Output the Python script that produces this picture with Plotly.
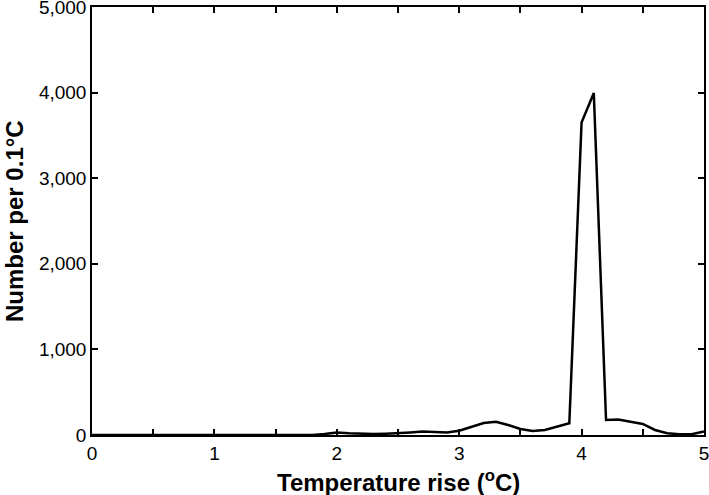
import plotly.graph_objects as go

temperature_rise = [round(i * 0.1, 1) for i in range(51)]
number_per_bin = [
    0, 0, 0, 0, 0, 0, 0, 0, 0, 0,        # 0.0-0.9
    0, 0, 0, 0, 0, 0, 0, 0, 0, 10,       # 1.0-1.9
    30, 20, 15, 10, 15, 20, 30, 40, 35, 30,   # 2.0-2.9
    50, 97, 140, 155, 117, 70, 47, 58, 97, 136,  # 3.0-3.9
    3650, 3995, 175, 180, 155, 128, 58, 20, 8, 8,  # 4.0-4.9
    40,                                  # 5.0
]

x_ticks = [0, 1, 2, 3, 4, 5]
y_ticks = [0, 1000, 2000, 3000, 4000, 5000]
x_title = "<b>Temperature rise (<sup>o</sup>C)</b>"
y_title = "<b>Number per 0.1°C</b>"

fig = go.Figure(go.Scatter(
    x=temperature_rise, y=number_per_bin, mode="lines",
    line=dict(color="black", width=2.5), showlegend=False,
))

font_family = "Liberation Sans, Arial, sans-serif"
fig.update_layout(
    width=709, height=495,
    margin=dict(l=92, r=5, t=7, b=60),
    paper_bgcolor="white", plot_bgcolor="white",
    font=dict(family=font_family, color="black", size=19),
    annotations=[
        dict(text=x_title, xref="paper", yref="paper", x=0.5, y=-46 / 428,
             xanchor="center", yanchor="middle", showarrow=False, font=dict(size=24)),
        dict(text=y_title, xref="paper", yref="paper", x=-78 / 612, y=0.5,
             xanchor="center", yanchor="middle", textangle=-90, showarrow=False,
             font=dict(size=24)),
    ],
)
fig.update_xaxes(
    range=[-0.0005, 5.0005], tickvals=x_ticks, ticks="inside", ticklen=6, tickwidth=1.5,
    tickcolor="black", mirror="allticks", showline=True, linecolor="black",
    linewidth=1.5, showgrid=False, zeroline=False, automargin=False,
    ticklabeloverflow="allow",
    minor=dict(tickvals=[0.5, 1.5, 2.5, 3.5, 4.5], ticks="inside", ticklen=6,
               tickwidth=1.5, tickcolor="black"),
    tickfont=dict(size=19),
)
fig.update_yaxes(
    range=[-0.5, 5000.5], tickvals=y_ticks, tickformat=",", ticks="inside", ticklen=6,
    tickwidth=1.5, tickcolor="black", mirror="allticks", showline=True,
    linecolor="black", linewidth=1.5, showgrid=False, zeroline=False, automargin=False,
    ticklabeloverflow="allow",
    tickfont=dict(size=19),
)

fig.write_html("out.html", config={"displayModeBar": False},
               post_script="document.body.style.margin='0px';")
